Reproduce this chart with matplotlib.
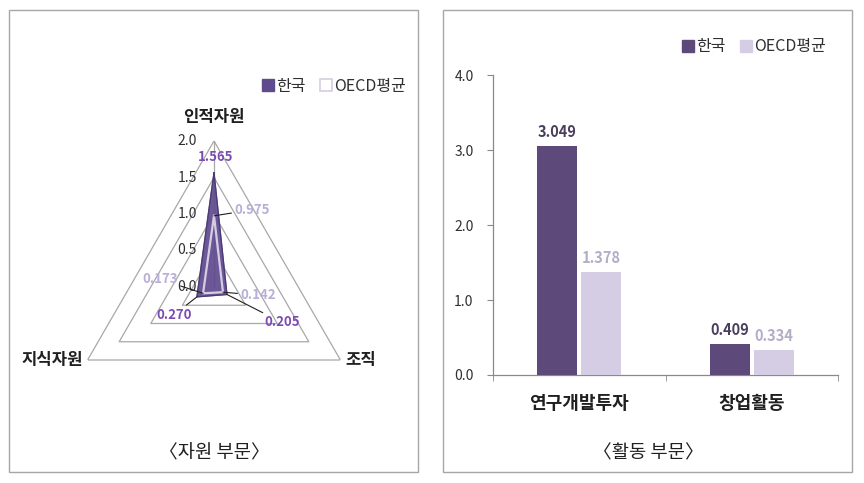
import numpy as np
import matplotlib.pyplot as plt
from matplotlib.patches import Rectangle
from matplotlib.lines import Line2D

plt.rcParams['font.family'] = ['Noto Sans CJK KR', 'DejaVu Sans']

# 자원 부문 (radar)
res_cats = ['인적자원', '조직', '지식자원']
res_korea = [1.565, 0.205, 0.270]
res_oecd = [0.975, 0.142, 0.173]
res_ticks = [0.0, 0.5, 1.0, 1.5, 2.0]

# 활동 부문 (bars)
act_cats = ['연구개발투자', '창업활동']
act_korea = [3.049, 0.409]
act_oecd = [1.378, 0.334]
act_ticks = [0.0, 1.0, 2.0, 3.0, 4.0]

series_names = ['한국', 'OECD평균']

c_kor = '#5E4A7A'
c_oecd = '#D5CDE3'
c_kor_rad = '#5F4A8E'
c_lab_kor = '#7B4CB5'
c_lab_oecd = '#B8AED8'
c_grid = '#A8A8A8'
c_txt = '#303030'

W, H = 864, 483
fig = plt.figure(figsize=(W / 100, H / 100), dpi=100)

def fx(px):
    return px / W

def fy(py):
    return 1 - py / H

# panel frames
for x0, x1 in [(9, 418), (443, 852)]:
    fig.patches.append(Rectangle((fx(x0), fy(472)), fx(x1 - x0), (472 - 10) / H,
                                 transform=fig.transFigure, fill=False,
                                 edgecolor='#A6A6A6', lw=1.0))

# ---------------- radar ----------------
cx, cy, R = 214, 287, 146
ax = fig.add_axes([fx(cx - R), fy(cy + R), fx(2 * R), 2 * R / H], projection='polar')
ax.set_theta_offset(np.pi / 2)
ax.set_theta_direction(-1)
ax.set_ylim(0, 2.0)
ax.grid(False)
ax.set_xticks([])
ax.set_yticks([])
ax.spines['polar'].set_visible(False)
ax.patch.set_alpha(0)

theta = np.arange(len(res_cats)) * 2 * np.pi / len(res_cats)
th_closed = np.append(theta, theta[0])

for r in res_ticks[1:]:
    ax.plot(th_closed, [r] * (len(theta) + 1), color=c_grid, lw=0.9, zorder=1)
ax.plot([0, 0], [0, 2.0], color=c_grid, lw=0.9, zorder=1)

kor = np.append(res_korea, res_korea[0])
oec = np.append(res_oecd, res_oecd[0])
ax.fill(th_closed, kor, color=c_kor_rad, alpha=0.92, zorder=3)
ax.plot(th_closed, kor, color='#4A3A70', lw=0.8, zorder=3)
ax.plot(th_closed, oec, color=c_oecd, lw=1.6, zorder=4)

for r in res_ticks:
    ax.annotate(f'{r:.1f}', xy=(0, r), xytext=(-17, 0), textcoords='offset pixels',
                ha='right', va='center', fontsize=10, color=c_txt, annotation_clip=False)

lab_kw = dict(textcoords='offset pixels', va='center', fontsize=12, fontweight='bold',
              color='#202020', annotation_clip=False)
ax.annotate(res_cats[0], xy=(theta[0], 2.0), xytext=(0, 24), ha='center', **lab_kw)
ax.annotate(res_cats[1], xy=(theta[1], 2.0), xytext=(5, 0), ha='left', **lab_kw)
ax.annotate(res_cats[2], xy=(theta[2], 2.0), xytext=(-5, 0), ha='right', **lab_kw)

lead = dict(arrowstyle='-', color='#202020', lw=0.8, shrinkA=0, shrinkB=0)
kor_offsets = [(2, 16), (55, -28), (-23, -18)]
oec_offsets = [(38, 6), (35, -3), (-43, 14)]
for i, v in enumerate(res_korea):
    ax.annotate(f'{v:.3f}', xy=(theta[i], v), xytext=kor_offsets[i],
                textcoords='offset pixels', ha='center', va='center',
                fontsize=9.5, fontweight='bold', color=c_lab_kor, zorder=6,
                arrowprops=None if i == 0 else lead, annotation_clip=False)
for i, v in enumerate(res_oecd):
    ax.annotate(f'{v:.3f}', xy=(theta[i], v), xytext=oec_offsets[i],
                textcoords='offset pixels', ha='center', va='center',
                fontsize=9.5, fontweight='bold', color=c_lab_oecd, zorder=6,
                arrowprops=lead, annotation_clip=False)

leg1 = [Line2D([], [], marker='s', ls='', markersize=8, markerfacecolor=c_kor_rad,
               markeredgecolor=c_kor_rad),
        Line2D([], [], marker='s', ls='', markersize=8, markerfacecolor='white',
               markeredgecolor=c_oecd, markeredgewidth=1.2)]
fig.legend(leg1, series_names, loc='center', bbox_to_anchor=(fx(334), fy(86)),
           ncol=2, frameon=False, fontsize=11.5, handlelength=0.8, handletextpad=0.1,
           columnspacing=0.9, labelcolor='#303030')

fig.text(fx(214), fy(453), '〈자원 부문〉', ha='center', va='center', fontsize=13.5,
         color='#202020')

# ---------------- bars ----------------
bx = fig.add_axes([fx(493), fy(375), fx(838 - 493), 300 / H])
x = np.arange(len(act_cats))
bw = 0.232
off = 0.128
b1 = bx.bar(x - off, act_korea, bw, color=c_kor, zorder=3)
b2 = bx.bar(x + off, act_oecd, bw, color=c_oecd, zorder=3)
for rect, v in zip(b1, act_korea):
    bx.annotate(f'{v:.3f}', xy=(rect.get_x() + rect.get_width() / 2, v), xytext=(0, 6),
                textcoords='offset pixels', ha='center', va='bottom', fontsize=10.5,
                fontweight='bold', color='#4A3D5E')
for rect, v in zip(b2, act_oecd):
    bx.annotate(f'{v:.3f}', xy=(rect.get_x() + rect.get_width() / 2, v), xytext=(0, 6),
                textcoords='offset pixels', ha='center', va='bottom', fontsize=10.5,
                fontweight='bold', color='#B5ACC8')

bx.set_xlim(-0.5, len(act_cats) - 0.5)
bx.set_ylim(0, 4.0)
bx.set_yticks(act_ticks)
bx.set_yticklabels([f'{t:.1f}' for t in act_ticks], fontsize=10, color=c_txt)
bx.set_xticks(x)
bx.set_xticklabels(act_cats, fontsize=13, fontweight='bold', color='#202020')
bx.set_xticks(np.arange(len(act_cats) + 1) - 0.5, minor=True)
bx.tick_params(axis='x', which='major', length=0, pad=14)
bx.tick_params(axis='x', which='minor', length=4, direction='out', color='#898989')
bx.tick_params(axis='y', length=4, direction='out', color='#898989', pad=10)
for s in ['top', 'right']:
    bx.spines[s].set_visible(False)
for s in ['left', 'bottom']:
    bx.spines[s].set_color('#898989')
    bx.spines[s].set_linewidth(0.9)
bx.patch.set_alpha(0)

leg2 = [Line2D([], [], marker='s', ls='', markersize=8, markerfacecolor=c_kor,
               markeredgecolor=c_kor),
        Line2D([], [], marker='s', ls='', markersize=8, markerfacecolor=c_oecd,
               markeredgecolor=c_oecd)]
fig.legend(leg2, series_names, loc='center', bbox_to_anchor=(fx(754), fy(47)),
           ncol=2, frameon=False, fontsize=11.5, handlelength=0.8, handletextpad=0.1,
           columnspacing=0.9, labelcolor='#303030')

fig.text(fx(648), fy(453), '〈활동 부문〉', ha='center', va='center', fontsize=13.5,
         color='#202020')

fig.savefig('out.png', dpi=100)
